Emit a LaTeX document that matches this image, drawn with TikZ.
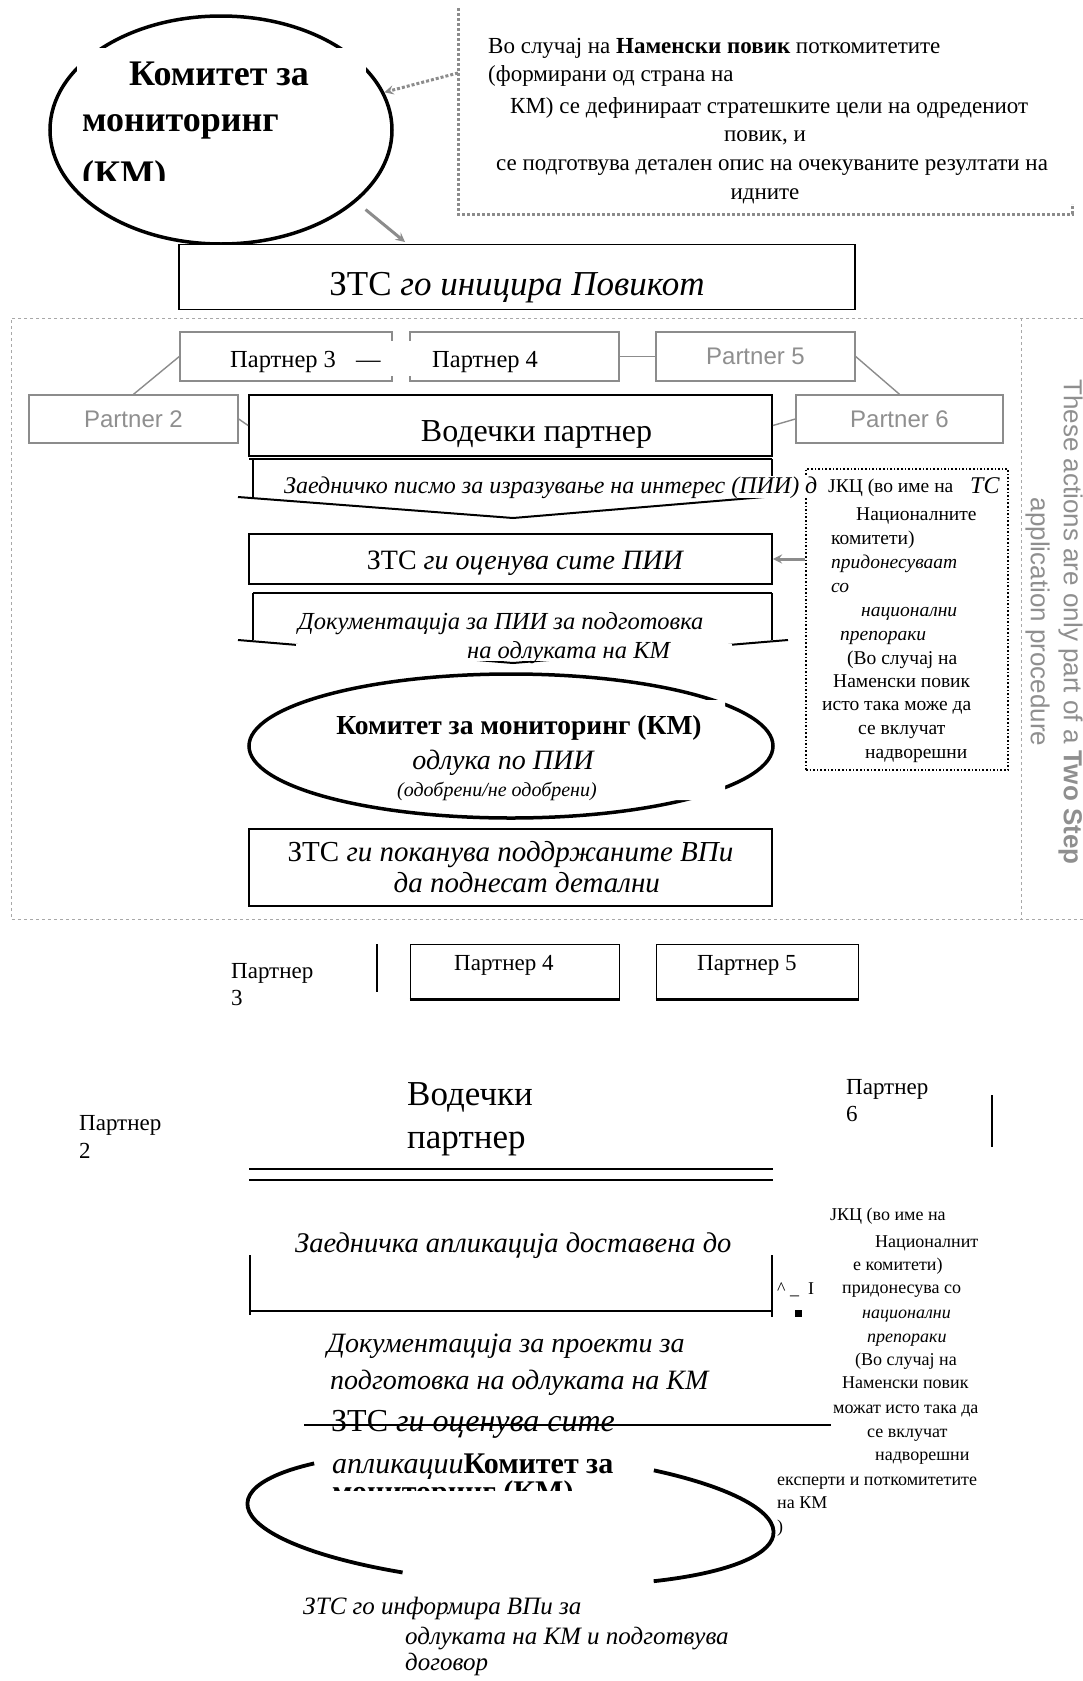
\documentclass[tikz,border=0pt]{standalone}
\usepackage{fontspec}
\setmainfont{Liberation Serif}
\newfontfamily\labelsans{Liberation Sans}
\usetikzlibrary{shapes.geometric}
\definecolor{LineGray}{HTML}{8C8C8C}
\definecolor{TextGray}{HTML}{8F8F8F}
\definecolor{FrameGray}{HTML}{A8A8A8}
\newcommand{\fsz}[2]{\fontsize{#1}{#2}\selectfont}
\tikzset{
  every picture/.style={>=stealth},
  txt/.style={inner sep=0pt, anchor=base west},
  ctxt/.style={inner sep=0pt, anchor=base},
  blackbox/.style={draw=black, line width=1.8pt, inner sep=0pt, fill=white},
  partnerbox/.style={draw=LineGray, line width=1.4pt, inner sep=0pt, fill=white,
    text=TextGray, font=\labelsans\fsz{24}{28}},
  partnerlink/.style={LineGray, line width=1.4pt},
  grayarrow/.style={->, LineGray, line width=3pt},
  dotarrow/.style={->, LineGray, line width=3pt, dotted},
  notedots/.style={LineGray, line width=3pt, dotted},
  framedash/.style={FrameGray, line width=1pt, dashed},
  strokeline/.style={line width=2pt},
  thickcurve/.style={line width=3.8pt},
  notefont/.style={font=\fsz{23}{27}},
  jkcfont/.style={font=\fsz{19.5}{23}},
  jkclowfont/.style={font=\fsz{18}{22}}
}
\begin{document}
\begin{tikzpicture}[x=1pt, y=-1pt]
  \useasboundingbox (0,0) rectangle (1083,1681);
  \fill[white] (0,0) rectangle (1083,1681);

  % committee on top
  \node[ellipse, draw, line width=3.5pt, minimum width=342pt, minimum height=228pt, inner sep=0pt] (kmtop) at (221,130) {};
  \fill[white] (77,48) rectangle (366,180);
  \begin{scope}
    \clip (60,40) rectangle (380,180);
    \node[txt, font=\bfseries\fsz{36}{42}] (kmtopa) at (129,85) {Комитет за};
    \node[txt, font=\bfseries\fsz{36}{42}] (kmtopb) at (82,131) {мониторинг};
    \node[txt, font=\bfseries\fsz{36}{42}] (kmtopc) at (82,185) {(КМ)};
  \end{scope}

  % note on the targeted call
  \draw[notedots] (458,8) -- (458,214) -- (1072,214) -- (1072,204);
  \node[txt, notefont] (note1) at (488,53) {Во случај на \textbf{Наменски повик} поткомитетите};
  \node[txt, notefont] (note2) at (488,81) {(формирани од страна на};
  \node[txt, notefont] (note3) at (510,113) {КМ) се дефинираат стратешките цели на одредениот};
  \node[ctxt, notefont] (note4) at (765,141) {повик, и};
  \node[txt, notefont] (note5) at (496,170) {се подготвува детален опис на очекуваните резултати на};
  \node[ctxt, notefont] (note6) at (765,199) {идните};
  \coordinate (notetip) at (458,73);
  \draw[dotarrow] (notetip) -- (kmtop.13);

  \node[blackbox, minimum width=676pt, minimum height=65pt, text height=44pt, text depth=8pt,
    font=\fsz{35}{40}] (initiate) at (517,277) {ЗТС \textit{го иницира Повикот}};
  \coordinate (inihit) at (405,242);
  \draw[grayarrow, shorten <=12pt] (kmtop.-28) -- (inihit);

  % two step frame
  \draw[framedash] (1083,318) -- (11,318) -- (11,919) -- (1083,919);
  \draw[framedash] (1021,318) -- (1021,919);
  \node[rotate=-90, align=center, text=TextGray, font=\labelsans\fsz{26}{33}] (twostep) at (1054,622)
    {These actions are only part of a \textbf{Two Step}\\application procedure};

  % partners
  \node[partnerbox, minimum width=212pt, minimum height=49pt] (pthree) at (286,356.5) {};
  \node[partnerbox, minimum width=209pt, minimum height=49pt] (pfour) at (514.5,356.5) {};
  \node[partnerbox, minimum width=199pt, minimum height=49pt] (pfive) at (755.5,356.5) {Partner 5};
  \node[partnerbox, minimum width=209pt, minimum height=48pt] (ptwo) at (133.5,419) {Partner 2};
  \node[partnerbox, minimum width=207pt, minimum height=48pt] (psix) at (899.5,419) {Partner 6};
  \node[blackbox, minimum width=523pt, minimum height=61pt, text height=37pt, text depth=6pt,
    font=\fsz{32}{36}] (lead) at (510.5,425.5) {\hspace*{52pt}Водечки партнер};
  \draw[partnerlink] (ptwo.north) -- (pthree.west);
  \draw[partnerlink] (ptwo.east) -- (lead.west);
  \draw[partnerlink] (pfour.east) -- (pfive.west);
  \draw[partnerlink] (pfive.east) -- (psix.north);
  \draw[partnerlink] (psix.west) -- (lead.east);
  \fill[white] (226,341) rectangle (428,376);
  \node[txt, font=\fsz{24.5}{28}] (pthreetxt) at (230,367) {Партнер 3\hspace{20pt}—};
  \node[txt, font=\fsz{24.5}{28}] (pfourtxt) at (432,367) {Партнер 4};

  % letter of intent
  \draw[strokeline] (249,459) -- (772,459);
  \draw[strokeline] (253,459) -- (253,497);
  \draw[strokeline] (772,459) -- (772,497);
  \draw[strokeline] (238,497) -- (513,518) -- (800,494);
  \node[draw, dotted, line width=1.6pt, minimum width=202pt, minimum height=301pt, inner sep=0pt] (jkc) at (907,619.5) {};
  \node[txt, fill=white, font=\itshape\fsz{24}{28}] (eoi) at (284,493) {Заедничко писмо за изразување на интерес (ПИИ) д};
  \node[txt, font=\itshape\fsz{24}{28}] (eoiend) at (970,493) {ТС};
  \node[txt, jkcfont] (jkcfirst) at (828,492) {ЈКЦ (во име на};
  \foreach \x/\y/\t in {856/520/{Националните}, 831/544/{комитети)}, 831/568/{\textit{придонесуваат}},
      831/592/{\textit{со}}, 861/616/{\textit{национални}}, 840/640/{\textit{препораки}},
      847/664/{(Во случај на}, 833/687/{Наменски повик}, 822/710/{исто така може да},
      858/734/{се вклучат}, 865/758/{надворешни}} {
    \node[txt, jkcfont] (jkc\y) at (\x,\y) {\t};
  }

  \node[blackbox, minimum width=523pt, minimum height=50pt, text height=27pt, text depth=6pt,
    font=\fsz{28}{32}] (evalbox) at (510.5,559) {\hspace*{30pt}ЗТС \textit{ги оценува сите ПИИ}};
  \draw[grayarrow] (jkc.west |- evalbox.east) -- (evalbox.east);

  % documentation
  \draw[strokeline] (253,593) -- (772,593);
  \draw[strokeline] (253,593) -- (253,640);
  \draw[strokeline] (772,593) -- (772,640);
  \draw[strokeline] (238,640) -- (513,663) -- (788,640);
  \node[txt, font=\itshape\fsz{24.5}{28}] (docs1) at (298,629) {Документација за ПИИ за подготовка};
  \fill[white] (296,644) rectangle (732,661);
  \node[txt, font=\itshape\fsz{24.5}{28}] (docs2) at (467,658) {на одлуката на КМ};

  % decision
  \node[ellipse, draw, line width=3.5pt, minimum width=524pt, minimum height=144pt, inner sep=0pt] (kmmid) at (511,746) {};
  \fill[white] (335,700) -- (725,700) -- (725,800) -- (655,800) -- (655,772) -- (335,772) -- cycle;
  \node[ctxt, font=\bfseries\fsz{27.5}{32}] (kmmida) at (519,734) {Комитет за мониторинг (КМ)};
  \node[ctxt, font=\itshape\fsz{28}{32}] (kmmidb) at (503,769) {одлука по ПИИ};
  \node[ctxt, font=\itshape\fsz{20}{22}] (kmmidc) at (497,796) {(одобрени/не одобрени)};

  \node[blackbox, minimum width=523pt, minimum height=77pt, align=left, font=\fsz{29}{31}] (invite) at (510.5,867.5)
    {ЗТС \textit{ги поканува поддржаните ВПи}\\\hspace*{106pt}\textit{да поднесат детални}};

  % second step, broken layout
  \node[txt, font=\fsz{23}{27}] (pthreelowa) at (231,978) {Партнер};
  \node[txt, font=\fsz{23}{27}] (pthreelowb) at (231,1005) {3};
  \draw[line width=1.2pt] (377,944) -- (377,992);
  \node[draw, line width=1pt, minimum width=209pt, minimum height=55pt, inner sep=0pt] (pfourlow) at (514.5,971.5) {};
  \draw[line width=2.5pt] (pfourlow.south west) -- (pfourlow.south east);
  \node[txt, font=\fsz{23}{27}] (pfourlowtxt) at (454,970) {Партнер 4};
  \node[draw, line width=1pt, minimum width=202pt, minimum height=55pt, inner sep=0pt] (pfivelow) at (757,971.5) {};
  \draw[line width=2.5pt] (pfivelow.south west) -- (pfivelow.south east);
  \node[txt, font=\fsz{23}{27}] (pfivelowtxt) at (697,970) {Партнер 5};

  \node[txt, font=\fsz{23}{27}] (ptwolowa) at (79,1130) {Партнер};
  \node[txt, font=\fsz{23}{27}] (ptwolowb) at (79,1158) {2};
  \node[txt, font=\fsz{35}{40}] (leadlowa) at (407,1105) {Водечки};
  \node[txt, font=\fsz{35}{40}] (leadlowb) at (407,1148) {партнер};
  \node[txt, font=\fsz{23}{27}] (psixlowa) at (846,1094) {Партнер};
  \node[txt, font=\fsz{23}{27}] (psixlowb) at (846,1121) {6};
  \draw[line width=1.2pt] (992,1095) -- (992,1147);
  \draw[line width=2.5pt] (249,1169) -- (773,1169);
  \draw[line width=2.5pt] (249,1180) -- (773,1180);

  \node[txt, font=\itshape\fsz{28.5}{32}] (applow) at (295,1252) {Заедничка апликација доставена до};
  \draw[line width=1.5pt] (250,1255) -- (250,1315);
  \draw[line width=1.5pt] (772,1255) -- (772,1317);
  \draw[line width=2.5pt] (250,1311) -- (772,1311);
  \node[txt, font=\fsz{18}{22}] (markslow) at (777,1294) {\textasciicircum\ \_\ \ I};
  \fill (795,1310) rectangle (802,1317);
  \foreach \x/\y/\t in {830/1220/{ЈКЦ (во име на}, 875/1247/{Националнит}, 853/1270/{е комитети)},
      842/1293/{придонесува со}, 862/1318/{\textit{национални}}, 867/1342/{\textit{препораки}},
      855/1365/{(Во случај на}, 842/1388/{Наменски повик}, 833/1413/{можат исто така да},
      867/1437/{се вклучат}, 875/1460/{надворешни}, 777/1485/{експерти и поткомитетите},
      777/1508/{на КМ}, 777/1532/{)}} {
    \node[txt, jkclowfont] (jkclow\y) at (\x,\y) {\t};
  }

  \node[txt, font=\itshape\fsz{28}{32}] (docslowa) at (327,1352) {Документација за проекти за};
  \node[txt, font=\itshape\fsz{28}{32}] (docslowb) at (330,1389) {подготовка на одлуката на КМ};
  \node[txt, font=\fsz{32}{36}] (evallow) at (331,1431) {ЗТС \textit{ги оценува сите}};
  \draw[strokeline] (304,1425) -- (831,1425);
  \node[txt, font=\fsz{30}{34}] (kmlowa) at (332,1473) {\textit{апликации}\textbf{Комитет за}};
  \begin{scope}
    \clip (300,1470) rectangle (800,1490);
    \node[txt, font=\bfseries\fsz{30}{34}] (kmlowb) at (332,1501) {мониторинг (КМ)};
  \end{scope}
  \coordinate (kmlow) at (510.5,1518);
  \begin{scope}[shift={(kmlow)}, rotate=-3.3]
    \draw[thickcurve] (220.9:263.5 and 66) arc[start angle=220.9, end angle=113.4, x radius=263.5, y radius=66];
    \draw[thickcurve] (-57.8:263.5 and 66) arc[start angle=-57.8, end angle=56.2, x radius=263.5, y radius=66];
  \end{scope}

  \node[txt, font=\itshape\fsz{25}{28}] (informa) at (303,1614) {ЗТС го информира ВПи за};
  \node[txt, font=\itshape\fsz{25}{28}] (informb) at (405,1644) {одлуката на КМ и подготвува};
  \node[txt, font=\itshape\fsz{25}{28}] (informc) at (405,1670) {договор};
\end{tikzpicture}
\end{document}
